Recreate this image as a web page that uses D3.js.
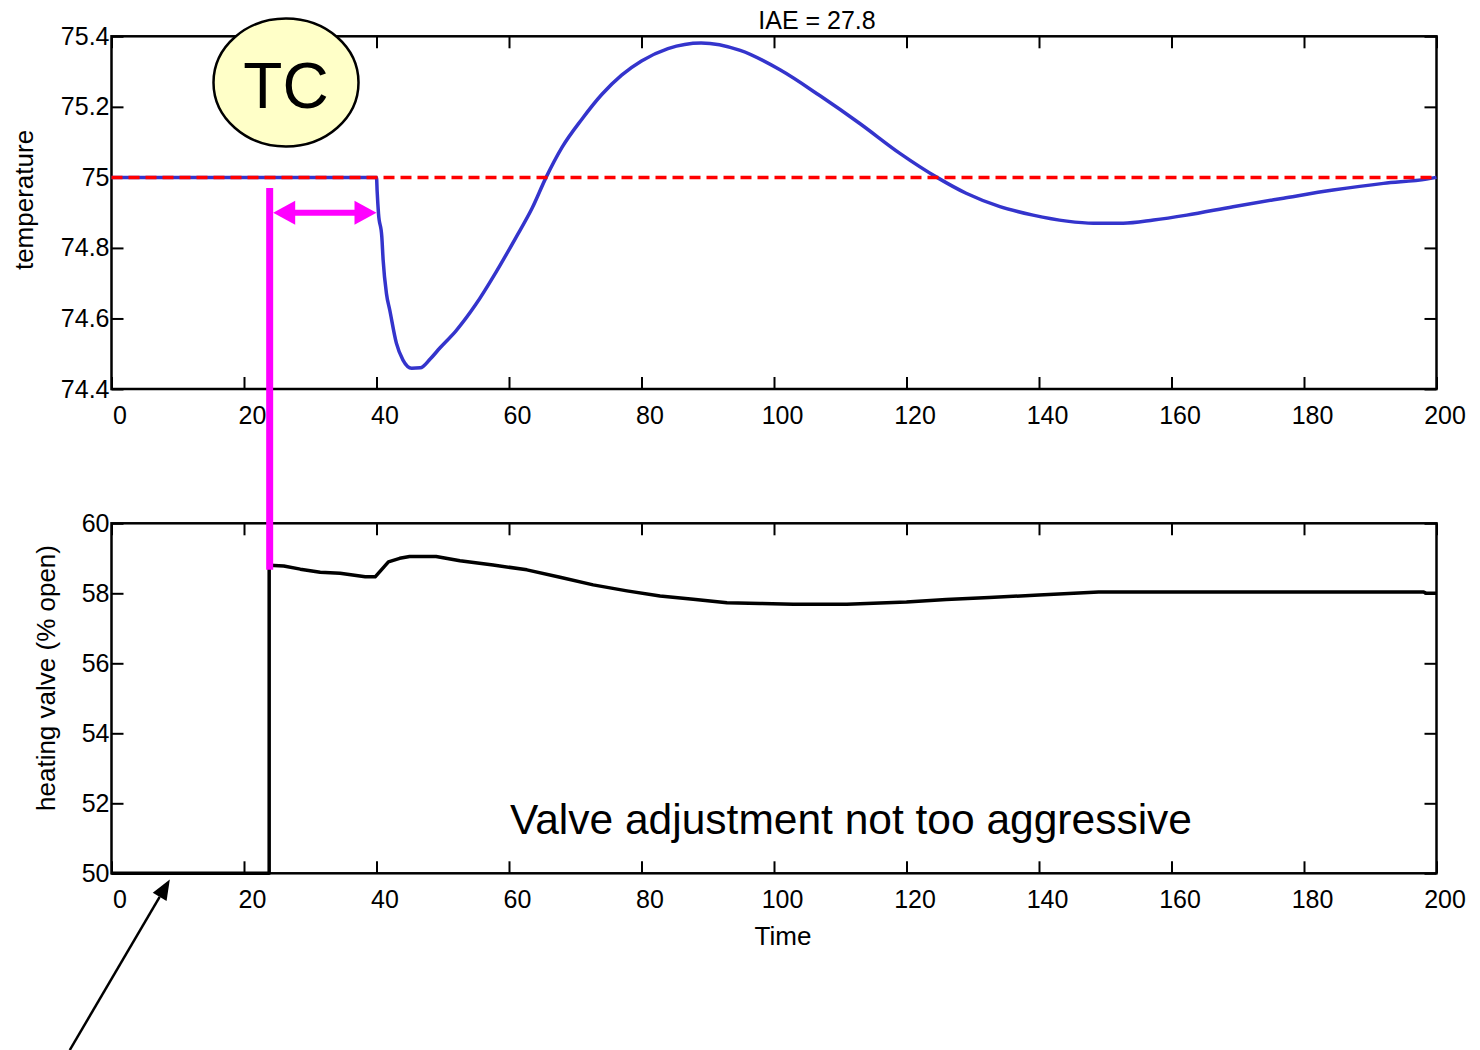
<!DOCTYPE html>
<html>
<head>
<meta charset="utf-8">
<script src="https://cdn.jsdelivr.net/npm/d3@7"></script>
<style>
  body { margin: 0; background: #fff; }
  svg { font-family: "Liberation Sans", Arial, sans-serif; }
</style>
</head>
<body>
<svg id="chart" width="1480" height="1050"></svg>
<script>
// ---- data ----
// temperature response (top plot)
const tempTime = [0, 40, 40.1, 40.3, 40.8, 41.0, 41.5, 42, 43, 44, 45.3, 46.6, 48.1, 49.6, 52, 55, 58, 61, 63.5, 65.6, 68, 71, 74, 77, 80, 84, 89, 94.9, 100.9, 106.9, 113, 119, 124.6, 129, 134.1, 139.1, 144.2, 148.2, 152.7, 157.3, 162.3, 169.3, 176.9, 184.4, 192, 198.5, 200];
const tempValue = [75, 75, 74.96, 74.898, 74.832, 74.766, 74.671, 74.624, 74.53, 74.482, 74.459, 74.46, 74.485, 74.517, 74.565, 74.64, 74.73, 74.828, 74.913, 75.0, 75.085, 75.165, 75.235, 75.29, 75.33, 75.365, 75.381, 75.36, 75.305, 75.232, 75.152, 75.068, 75.0, 74.955, 74.917, 74.893, 74.876, 74.87, 74.87, 74.879, 74.893, 74.917, 74.941, 74.964, 74.983, 74.995, 75.0];

// setpoint
const spTime = [0, 200];
const spValue = [75, 75];

// heating valve output (bottom plot)
const valveTime = [0, 23.8, 23.8, 26, 28.5, 31.5, 34.5, 38.3, 39.8, 41.8, 43.5, 45, 49, 52.6, 57.6, 62.7, 67.7, 72.7, 77.8, 82.8, 87.8, 92.9, 97.9, 102.9, 111, 120, 126, 132.5, 140, 149, 198, 198.5, 200];
const valveValue = [50, 50, 58.8, 58.78, 58.69, 58.6, 58.57, 58.47, 58.47, 58.9, 59.0, 59.05, 59.05, 58.93, 58.81, 58.67, 58.46, 58.24, 58.07, 57.92, 57.83, 57.73, 57.71, 57.69, 57.69, 57.75, 57.82, 57.88, 57.95, 58.04, 58.04, 58.0, 58.0];

// tick labels
const timeTicks = [0, 20, 40, 60, 80, 100, 120, 140, 160, 180, 200];
const tempTicks = [74.4, 74.6, 74.8, 75, 75.2, 75.4];
const valveTicks = [50, 52, 54, 56, 58, 60];

// annotations (data units)
const stepTime = 23.8;       // valve moves
const responseTime = 40;     // temperature starts to move
const arrowTemp = 74.9;      // height of the dead time arrow
const pointerFrom = [-6.3, 44.95];
const pointerTo = [8.8, 49.82];

const svg = d3.select("#chart");
const font = "\"Liberation Sans\", Arial, sans-serif";

// scales
const x = d3.scaleLinear().domain([0, 200]).range([111.5, 1436.5]);
const yTop = d3.scaleLinear().domain([74.4, 75.4]).range([389, 36.3]);
const yBot = d3.scaleLinear().domain([50, 60]).range([873.3, 523.3]);

function drawAxes(y, ticks, fmt) {
    const [y0, y1] = y.range();

    // bottom axis with labels, ticks pointing inside
    const bx = svg.append("g")
        .attr("transform", `translate(0,${y0})`)
        .call(d3.axisBottom(x).tickValues(timeTicks).tickSize(-12).tickSizeOuter(0).tickPadding(17));
    bx.selectAll("text").attr("dx", 8);

    // top axis, ticks only
    svg.append("g")
        .attr("transform", `translate(0,${y1})`)
        .call(d3.axisTop(x).tickValues(timeTicks).tickSize(-12).tickSizeOuter(0).tickFormat(""));

    // left axis with labels
    svg.append("g")
        .attr("transform", `translate(${x.range()[0]},0)`)
        .call(d3.axisLeft(y).tickValues(ticks).tickSize(-12).tickSizeOuter(0).tickPadding(2).tickFormat(fmt));

    // right axis, ticks only
    svg.append("g")
        .attr("transform", `translate(${x.range()[1]},0)`)
        .call(d3.axisRight(y).tickValues(ticks).tickSize(-12).tickSizeOuter(0).tickFormat(""));

    svg.selectAll(".domain").remove();
    svg.selectAll(".tick line").attr("stroke", "#000").attr("stroke-width", 2);
    svg.selectAll(".tick text")
        .attr("fill", "#000")
        .style("font-family", font)
        .style("font-size", "25px");

    // box around plot
    svg.append("rect")
        .attr("x", x.range()[0])
        .attr("y", y1)
        .attr("width", x.range()[1] - x.range()[0])
        .attr("height", y0 - y1)
        .attr("fill", "none")
        .attr("stroke", "#000")
        .attr("stroke-width", 2.5);
}

drawAxes(yTop, tempTicks, (d) => d3.format("")(d));
drawAxes(yBot, valveTicks, (d) => d);

// ---- top plot lines ----
const tempLine = d3.line()
    .x((d, i) => x(tempTime[i]))
    .y((d) => yTop(d))
    .curve(d3.curveMonotoneX);

svg.append("path")
    .attr("d", tempLine(tempValue))
    .attr("fill", "none")
    .attr("stroke", "#3434cc")
    .attr("stroke-width", 3.5)
    .attr("stroke-linejoin", "round");

const spLine = d3.line()
    .x((d, i) => x(spTime[i]))
    .y((d) => yTop(d));

svg.append("path")
    .attr("d", spLine(spValue))
    .attr("fill", "none")
    .attr("stroke", "#ff0000")
    .attr("stroke-width", 3.5)
    .attr("stroke-dasharray", "11,6");

// ---- bottom plot line ----
const valveLine = d3.line()
    .x((d, i) => x(valveTime[i]))
    .y((d) => yBot(d));

svg.append("path")
    .attr("d", valveLine(valveValue))
    .attr("fill", "none")
    .attr("stroke", "#000")
    .attr("stroke-width", 3.5)
    .attr("stroke-linejoin", "round");

// ---- texts ----
svg.append("text")
    .attr("x", 817)
    .attr("y", 29)
    .attr("text-anchor", "middle")
    .style("font-size", "25px")
    .text("IAE = 27.8");

svg.append("text")
    .attr("transform", "translate(33,200) rotate(-90)")
    .attr("text-anchor", "middle")
    .style("font-size", "26px")
    .text("temperature");

svg.append("text")
    .attr("transform", "translate(55,678) rotate(-90)")
    .attr("text-anchor", "middle")
    .style("font-size", "26px")
    .text("heating valve (% open)");

svg.append("text")
    .attr("x", 783)
    .attr("y", 945)
    .attr("text-anchor", "middle")
    .style("font-size", "26px")
    .text("Time");

svg.append("text")
    .attr("x", 851)
    .attr("y", 834)
    .attr("text-anchor", "middle")
    .style("font-size", "42.5px")
    .text("Valve adjustment not too aggressive");

// ---- TC bubble ----
svg.append("ellipse")
    .attr("cx", 286)
    .attr("cy", 82.5)
    .attr("rx", 72.5)
    .attr("ry", 64)
    .attr("fill", "#ffffc8")
    .attr("stroke", "#000")
    .attr("stroke-width", 2.5);

svg.append("text")
    .attr("x", 286)
    .attr("y", 108)
    .attr("text-anchor", "middle")
    .style("font-size", "64px")
    .text("TC");

// ---- dead time annotation (magenta) ----
const magenta = "#ff00ff";
svg.append("line")
    .attr("x1", x(stepTime) + 0.5)
    .attr("x2", x(stepTime) + 0.5)
    .attr("y1", 188)
    .attr("y2", yBot(58.67))
    .attr("stroke", magenta)
    .attr("stroke-width", 7);

const ax0 = x(stepTime) + 4;
const ax1 = x(responseTime);
const ay = yTop(arrowTemp);
svg.append("line")
    .attr("x1", ax0 + 18)
    .attr("x2", ax1 - 18)
    .attr("y1", ay)
    .attr("y2", ay)
    .attr("stroke", magenta)
    .attr("stroke-width", 6);

svg.append("polygon")
    .attr("points", `${ax0},${ay} ${ax0 + 22},${ay - 12} ${ax0 + 22},${ay + 12}`)
    .attr("fill", magenta);
svg.append("polygon")
    .attr("points", `${ax1},${ay} ${ax1 - 22},${ay - 12} ${ax1 - 22},${ay + 12}`)
    .attr("fill", magenta);

// ---- black pointer arrow at bottom left ----
const px0 = x(pointerFrom[0]);
const py0 = yBot(pointerFrom[1]);
const px1 = x(pointerTo[0]);
const py1 = yBot(pointerTo[1]);
const ang = Math.atan2(py1 - py0, px1 - px0);
const headLen = 20;
const headW = 8;
const bx = px1 - headLen * Math.cos(ang);
const by = py1 - headLen * Math.sin(ang);

svg.append("line")
    .attr("x1", px0)
    .attr("y1", py0)
    .attr("x2", bx)
    .attr("y2", by)
    .attr("stroke", "#000")
    .attr("stroke-width", 2.5);

svg.append("polygon")
    .attr("points", [
        [px1, py1],
        [bx + headW * Math.sin(ang), by - headW * Math.cos(ang)],
        [bx - headW * Math.sin(ang), by + headW * Math.cos(ang)]
    ].map((p) => p.join(",")).join(" "))
    .attr("fill", "#000");
</script>
</body>
</html>
